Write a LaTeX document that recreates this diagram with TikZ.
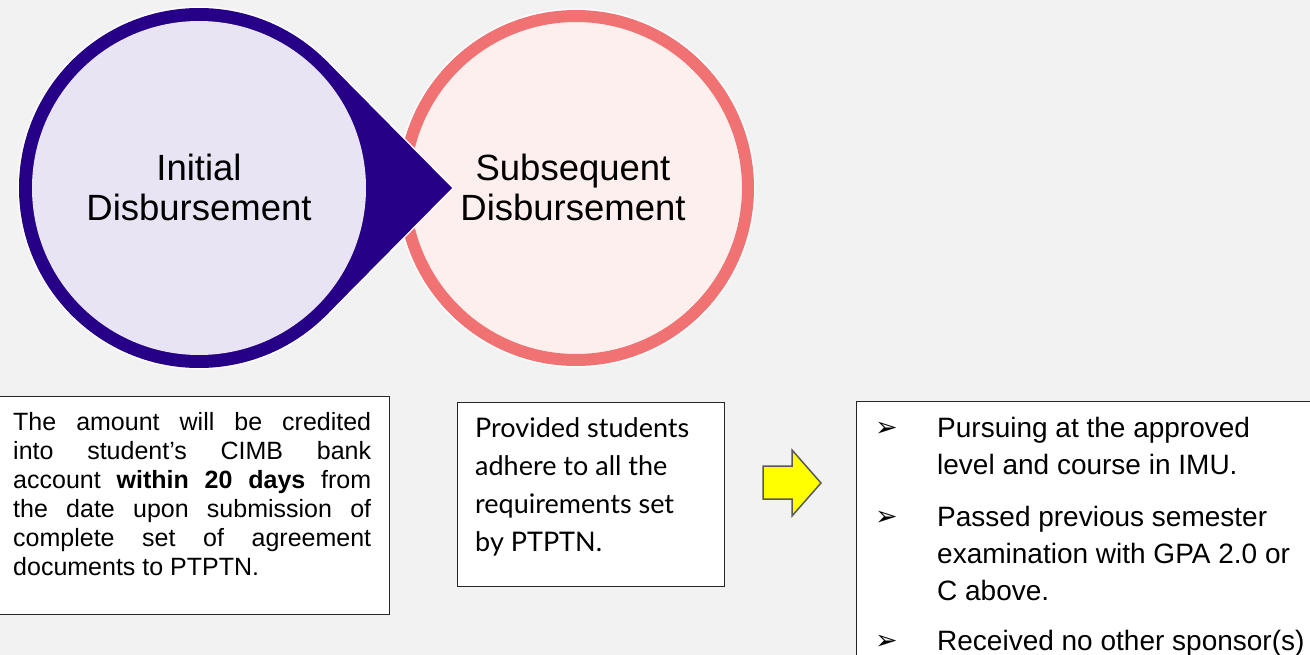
\documentclass[tikz,border=0pt]{standalone}
\usepackage{fontspec}
\setmainfont{Liberation Sans}
\newfontfamily\dejavu{DejaVu Sans}
\newfontfamily\midfont{Lato}
\definecolor{bgc}{HTML}{F2F2F2}
\definecolor{purp}{HTML}{260086}
\definecolor{lav}{HTML}{E8E4F3}
\definecolor{pinkline}{HTML}{F07272}
\definecolor{pinkfill}{HTML}{FDEFEE}
\definecolor{yel}{HTML}{FFFF00}
\definecolor{arrline}{HTML}{595959}
\newcommand\tstr[1]{\rule{0pt}{#1}}
\tikzset{
  circtext/.style={align=center, inner sep=0pt, font=\fontsize{36.5}{40}\selectfont},
  infobox/.style={draw=black!85, line width=1.3pt, fill=white, inner sep=0pt, anchor=north west},
  boxtext/.style={anchor=north west, inner sep=0pt},
  bul/.style={anchor=base west, inner sep=0pt, text depth=0pt, font=\dejavu\fontsize{27}{27}\selectfont},
  item/.style={anchor=north west, inner sep=0pt, align=left, font=\fontsize{28}{37}\selectfont},
}
\begin{document}
\begin{tikzpicture}[x=1pt,y=-1pt]
\useasboundingbox (0,0) rectangle (1310,655);
\fill[bgc] (0,0) rectangle (1310,655);

% right (subsequent) circle
\fill[white] (576,188) circle[radius=179.5];
\node[circle, draw=pinkline, fill=pinkfill, line width=12pt, minimum size=344pt, inner sep=0pt] (subc) at (576,188) {};

% left (initial) teardrop
\draw[white, line width=3pt] (199,188) circle[radius=180];
\draw[white, line width=3pt, line join=round] (452,188) -- (327,61.5) -- (327,314.5) -- cycle;
\fill[purp] (199,188) circle[radius=180];
\fill[purp] (452,188) -- (327,61.5) -- (327,314.5) -- cycle;
\node[circle, fill=lav, minimum size=334pt, inner sep=0pt] (initc) at (199,188) {};

\node[circtext] (init) at (199,187) {Initial\\Disbursement};
\node[circtext] (subs) at (573,187) {Subsequent\\Disbursement};

% boxes
\node[infobox, minimum width=391pt, minimum height=218pt] (box1) at (-2,396) {};
\node[infobox, minimum width=267pt, minimum height=184pt] (box2) at (457,402) {};
\node[infobox, minimum width=470pt, minimum height=280pt] (box3) at (856,401) {};

\node[boxtext, text width=358pt, align=justify, font=\fontsize{25}{29}\selectfont] (t1) at (13,410.5)
 {\tstr{20pt}The amount will be credited\linebreak into student’s CIMB bank\linebreak account \textbf{within 20 days} from\linebreak the date upon submission of\linebreak complete set of agreement\linebreak documents to PTPTN.};

\node[boxtext, align=left, font=\midfont\fontsize{27}{38}\selectfont] (t2) at (475,417)
 {\tstr{20pt}Provided students\\adhere to all the\\requirements set\\by PTPTN.};

% yellow arrow
\filldraw[fill=yel, draw=arrline, line width=1.5pt, line join=miter]
  (763,466) -- (792,466) -- (792,450) -- (821,483) -- (792,516) -- (792,499) -- (763,499) -- cycle;

% bullet items
\node[bul] (b1) at (875,436.5) {➢};
\node[bul] (b2) at (875,525.5) {➢};
\node[bul] (b3) at (875,649.5) {➢};
\node[item] (i1) at (937,415) {\tstr{22pt}Pursuing at the approved\\level and course in IMU.};
\node[item] (i2) at (937,504) {\tstr{22pt}Passed previous semester\\examination with GPA 2.0 or\\C above.};
\node[item] (i3) at (937,628) {\tstr{22pt}Received no other sponsor(s)};
\end{tikzpicture}
\end{document}
